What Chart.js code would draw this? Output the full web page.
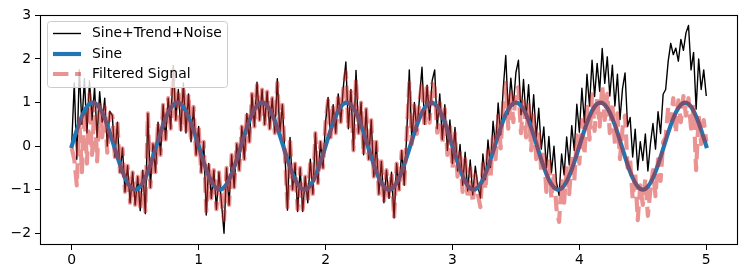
<!DOCTYPE html>
<html>
<head>
<meta charset="utf-8">
<script src="https://cdn.jsdelivr.net/npm/chart.js@4.4.1/dist/chart.umd.min.js"></script>
<style>
  html, body { margin: 0; padding: 0; background: #fff; }
  #chart { display: block; }
</style>
</head>
<body>
<canvas id="chart" width="747" height="279"></canvas>
<script>
// sampling step of the time axis (t = 0 .. 5)
const T_STEP = 0.02;

const sine = [
  0, 0.187, 0.368, 0.536, 0.685, 0.809, 0.905, 0.969, 0.998, 0.992,
  0.951, 0.876, 0.771, 0.637, 0.482, 0.309, 0.125, -0.063, -0.249, -0.426,
  -0.588, -0.729, -0.844, -0.930, -0.982, -1.0, -0.982, -0.930, -0.844, -0.729,
  -0.588, -0.426, -0.249, -0.063, 0.125, 0.309, 0.482, 0.637, 0.771, 0.876,
  0.951, 0.992, 0.998, 0.969, 0.905, 0.809, 0.685, 0.536, 0.368, 0.187,
  0, -0.187, -0.368, -0.536, -0.685, -0.809, -0.905, -0.969, -0.998, -0.992,
  -0.951, -0.876, -0.771, -0.637, -0.482, -0.309, -0.125, 0.063, 0.249, 0.426,
  0.588, 0.729, 0.844, 0.930, 0.982, 1.0, 0.982, 0.930, 0.844, 0.729,
  0.588, 0.426, 0.249, 0.063, -0.125, -0.309, -0.482, -0.637, -0.771, -0.876,
  -0.951, -0.992, -0.998, -0.969, -0.905, -0.809, -0.685, -0.536, -0.368, -0.187,
  0, 0.187, 0.368, 0.536, 0.685, 0.809, 0.905, 0.969, 0.998, 0.992,
  0.951, 0.876, 0.771, 0.637, 0.482, 0.309, 0.125, -0.063, -0.249, -0.426,
  -0.588, -0.729, -0.844, -0.930, -0.982, -1.0, -0.982, -0.930, -0.844, -0.729,
  -0.588, -0.426, -0.249, -0.063, 0.125, 0.309, 0.482, 0.637, 0.771, 0.876,
  0.951, 0.992, 0.998, 0.969, 0.905, 0.809, 0.685, 0.536, 0.368, 0.187,
  0, -0.187, -0.368, -0.536, -0.685, -0.809, -0.905, -0.969, -0.998, -0.992,
  -0.951, -0.876, -0.771, -0.637, -0.482, -0.309, -0.125, 0.063, 0.249, 0.426,
  0.588, 0.729, 0.844, 0.930, 0.982, 1.0, 0.982, 0.930, 0.844, 0.729,
  0.588, 0.426, 0.249, 0.063, -0.125, -0.309, -0.482, -0.637, -0.771, -0.876,
  -0.951, -0.992, -0.998, -0.969, -0.905, -0.809, -0.685, -0.536, -0.368, -0.187,
  0, 0.187, 0.368, 0.536, 0.685, 0.809, 0.905, 0.969, 0.998, 0.992,
  0.951, 0.876, 0.771, 0.637, 0.482, 0.309, 0.125, -0.063, -0.249, -0.426,
  -0.588, -0.729, -0.844, -0.930, -0.982, -1.0, -0.982, -0.930, -0.844, -0.729,
  -0.588, -0.426, -0.249, -0.063, 0.125, 0.309, 0.482, 0.637, 0.771, 0.876,
  0.951, 0.992, 0.998, 0.969, 0.905, 0.809, 0.685, 0.536, 0.368, 0.187,
  0
];

const noisy = [
  0.05, 1.45, -0.3, 1.75, 0.5, 1.55, 0.3, 1.5, 0.6, 1.35,
  0.2, 1.25, 0.55, 1.1, 0.0, 0.8, 0.7, -0.25, 0.55, -0.6,
  -0.05, -1.05, -0.45, -1.3, -0.6, -1.35, -0.7, -1.48, -0.55, -1.55,
  0.75, -0.95, 0.05, -0.6, 0.55, -0.2, 0.95, 0.15, 1.1, 0.4,
  1.85, 0.6, 1.3, 0.35, 1.45, 0.3, 1.2, 0.1, 0.9, -0.2,
  0.45, -0.6, 0.1, -1.58, -0.4, -1.2, -0.55, -1.45, -0.6, -1.3,
  -2.0, -0.5, -1.35, -0.2, -0.95, 0.05, -0.55, 0.45, -0.3, 0.75,
  0.1, 1.2, 0.45, 1.47, 0.6, 1.3, 0.5, 1.25, 0.4, 1.1,
  0.3, 1.55, 0.3, 0.95, -0.2, -1.47, 0.2, -1.0, -0.4, -1.5,
  -0.5, -1.5, -0.7, -1.3, -0.3, -1.1, 0.3, -0.85, 0.1, -0.5,
  0.55, 1.12, 0.2, 0.95, 0.3, 1.2, 0.55, 1.35, 1.93, 0.4,
  1.3, -0.1, 1.74, 0.3, 1.0, -0.2, 0.85, -0.3, 0.6, -0.7,
  0.1, -1.1, -0.35, -1.3, -0.55, -1.2, -0.6, -1.65, -0.4, -1.0,
  -0.1, -0.9, 0.3, 1.75, 0.1, 1.0, 0.35, 1.1, 1.81, 0.5,
  1.4, 0.6, 1.5, 1.75, 0.4, 1.2, 0.15, 0.95, -0.1, 0.6,
  -0.4, 0.43, -0.57, 0.04, -0.9, -0.14, -1.03, -0.32, -1.12, -0.46,
  -0.9, -1.19, -0.18, -0.77, 0.14, -0.49, 0.57, -0.02, 0.99, 0.26,
  1.32, 2.08, 0.74, 1.56, 0.93, 1.69, 1.97, 0.72, 1.53, 0.64,
  1.41, 0.37, 1.18, 0.2, 0.87, -0.07, 0.44, -0.5, 0.22, -0.61,
  0.0, -0.84, -1.13, -0.18, -0.66, 0.21, -0.43, 0.47, -0.1, 0.96,
  0.32, 1.33, 0.54, 1.65, 0.92, 1.97, 1.14, 1.9, 1.26, 2.24,
  1.44, 2.05, 1.15, 1.86, 0.92, 1.65, 0.61, 1.32, 1.68, 0.45,
  0.66, -0.25, 0.39, -0.55, 0.1, -0.33, 0.28, -0.57, 0.05, 0.52,
  -0.07, 0.79, 0.29, 1.19, 1.3, 1.95, 2.36, 2.1, 2.25, 1.95,
  2.45, 2.2, 2.6, 2.77, 1.75, 2.15, 0.85, 2.0, 1.3, 1.75,
  1.15
];

const filtered = [
  -0.05, -0.3, -0.9, 0.6, -0.6, 0.8, -0.4, 1.2, -0.2, 1.0,
  -0.35, 0.95, 0.2, 0.9, -0.15, 0.75, 0.7, -0.25, 0.55, -0.6,
  -0.05, -1.05, -0.45, -1.3, -0.6, -1.35, -0.7, -1.48, -0.55, -1.5,
  0.75, -0.95, 0.05, -0.6, 0.55, -0.2, 0.95, 0.15, 1.1, 0.4,
  1.75, 0.6, 1.3, 0.35, 1.4, 0.3, 1.2, 0.1, 0.9, -0.2,
  0.45, -0.6, 0.1, -1.5, -0.4, -1.2, -0.55, -1.45, -0.6, -1.3,
  -1.7, -0.5, -1.35, -0.2, -0.95, 0.05, -0.55, 0.45, -0.3, 0.75,
  0.1, 1.2, 0.45, 1.4, 0.6, 1.3, 0.5, 1.25, 0.4, 1.1,
  0.3, 1.45, 0.3, 0.95, -0.2, -1.4, 0.2, -1.0, -0.4, -1.45,
  -0.5, -1.45, -0.7, -1.3, -0.3, -1.1, 0.3, -0.85, 0.1, -0.5,
  0.55, 1.05, 0.2, 0.95, 0.3, 1.2, 0.55, 1.3, 1.7, 0.4,
  1.3, -0.1, 1.55, 0.3, 1.0, -0.2, 0.85, -0.3, 0.6, -0.7,
  0.1, -1.1, -0.35, -1.3, -0.55, -1.2, -0.6, -1.65, -0.4, -1.0,
  -0.12, -0.92, 0.27, 1.45, 0.05, 0.93, 0.28, 1.02, 1.47, 0.42,
  1.34, 0.54, 1.43, 1.35, 0.31, 1.1, 0.05, 0.85, -0.2, 0.5,
  -0.52, 0.3, -0.7, -0.1, -1.05, -0.3, -1.2, -0.5, -1.3, -0.65,
  -1.1, -1.4, -0.4, -1.0, -0.1, -0.75, 0.3, -0.3, 0.7, -0.05,
  1.0, 1.45, 0.4, 1.2, 0.55, 1.3, 1.35, 0.3, 1.1, 0.2,
  0.95, -0.1, 0.7, -0.3, 0.35, -0.6, -0.1, -1.05, -0.35, -1.2,
  -0.6, -1.45, -1.74, -0.8, -1.3, -0.45, -1.1, -0.2, -0.8, 0.25,
  -0.4, 0.6, -0.2, 0.9, 0.15, 1.19, 0.35, 1.1, 0.45, 1.4,
  0.6, 1.2, 0.3, 1.0, 0.05, 0.75, -0.3, 0.4, 0.7, -0.5,
  -0.3, -1.2, -0.6, -1.7, -0.9, -1.35, -0.75, -1.6, -1.0, -0.55,
  -1.15, -0.3, -0.8, 0.1, 0.2, 0.9, 0.6, 1.1, 0.3, 1.05,
  0.55, 1.15, 0.7, 1.1, 0.4, 0.9, -0.55, 0.7, 0.05, 0.6,
  0.1
];

const xTicks = [0, 1, 2, 3, 4, 5];
const yTicks = [-2, -1, 0, 1, 2, 3];
const labels = ['Sine+Trend+Noise', 'Sine', 'Filtered Signal'];

const BLACK = '#000000';
const BLUE = '#1f77b4';
const PINK = 'rgba(214, 39, 40, 0.5)';
const FONT = "'DejaVu Sans', sans-serif";
const THIN = 1.39;   // 1pt at 100 dpi
const THICK = 4.17;  // 3pt
const DASH = [15.4, 6.7];

const toPoints = arr => arr.map((v, i) => ({ x: i * T_STEP, y: v }));

// all four spines, drawn over the lines
const framePlugin = {
  id: 'frame',
  afterDatasetsDraw(chart) {
    const { ctx, chartArea: ca } = chart;
    ctx.save();
    ctx.strokeStyle = '#000';
    ctx.lineWidth = 1.1;
    ctx.strokeRect(ca.left + 0.5, ca.top + 0.5, ca.right - ca.left - 1, ca.bottom - ca.top - 1);
    ctx.restore();
  }
};

// legend box in the upper left corner of the axes
const legendPlugin = {
  id: 'boxLegend',
  afterDraw(chart) {
    const { ctx } = chart;
    const bx = 47.5, by = 21.5, bw = 180, bh = 66;
    ctx.save();
    ctx.beginPath();
    ctx.roundRect(bx, by, bw, bh, 3);
    ctx.fillStyle = 'rgba(255,255,255,0.8)';
    ctx.fill();
    ctx.strokeStyle = '#cccccc';
    ctx.lineWidth = 1;
    ctx.stroke();

    const rows = [
      { y: 33.5, color: BLACK, width: THIN, dash: [] },
      { y: 54, color: BLUE, width: THICK, dash: [] },
      { y: 74, color: PINK, width: THICK, dash: DASH }
    ];
    rows.forEach((r, k) => {
      ctx.beginPath();
      ctx.setLineDash(r.dash);
      ctx.lineCap = 'butt';
      ctx.strokeStyle = r.color;
      ctx.lineWidth = r.width;
      ctx.moveTo(53, r.y);
      ctx.lineTo(81, r.y);
      ctx.stroke();
      ctx.setLineDash([]);
      ctx.fillStyle = '#000';
      ctx.font = '13.9px ' + FONT;
      ctx.textBaseline = 'middle';
      ctx.fillText(labels[k], 92, r.y);
    });
    ctx.restore();
  }
};

const fmt = v => (v < 0 ? '\u2212' + Math.abs(v) : String(v));

new Chart(document.getElementById('chart'), {
  type: 'line',
  data: {
    datasets: [
      {
        label: labels[0],
        data: toPoints(noisy),
        borderColor: BLACK,
        borderWidth: THIN,
        borderJoinStyle: 'round',
        pointRadius: 0,
        tension: 0,
        order: 3
      },
      {
        label: labels[1],
        data: toPoints(sine),
        borderColor: BLUE,
        borderWidth: THICK,
        borderJoinStyle: 'round',
        borderCapStyle: 'square',
        pointRadius: 0,
        tension: 0,
        order: 2
      },
      {
        label: labels[2],
        data: toPoints(filtered),
        borderColor: PINK,
        borderWidth: THICK,
        borderDash: DASH,
        borderJoinStyle: 'round',
        pointRadius: 0,
        tension: 0,
        order: 1
      }
    ]
  },
  options: {
    responsive: false,
    animation: false,
    devicePixelRatio: 1,
    layout: { padding: { top: 15, right: 9, left: 0, bottom: 0 } },
    plugins: {
      legend: { display: false },
      tooltip: { enabled: false }
    },
    scales: {
      x: {
        type: 'linear',
        min: -0.25,
        max: 5.25,
        afterBuildTicks: s => { s.ticks = xTicks.map(v => ({ value: v })); },
        afterFit: s => { s.height = 34; },
        border: { display: false },
        grid: { drawOnChartArea: false, drawTicks: true, tickLength: 5, color: '#000', lineWidth: 1 },
        ticks: {
          color: '#000',
          padding: 2,
          maxRotation: 0,
          font: { family: FONT, size: 13.9 },
          callback: v => fmt(v)
        }
      },
      y: {
        type: 'linear',
        min: -2.27,
        max: 3.01,
        afterBuildTicks: s => { s.ticks = yTicks.map(v => ({ value: v })); },
        afterFit: s => { s.width = 40; },
        border: { display: false },
        grid: { drawOnChartArea: false, drawTicks: true, tickLength: 5, color: '#000', lineWidth: 1 },
        ticks: {
          color: '#000',
          padding: 4,
          font: { family: FONT, size: 13.9 },
          callback: v => fmt(v)
        }
      }
    }
  },
  plugins: [framePlugin, legendPlugin]
});
</script>
</body>
</html>
